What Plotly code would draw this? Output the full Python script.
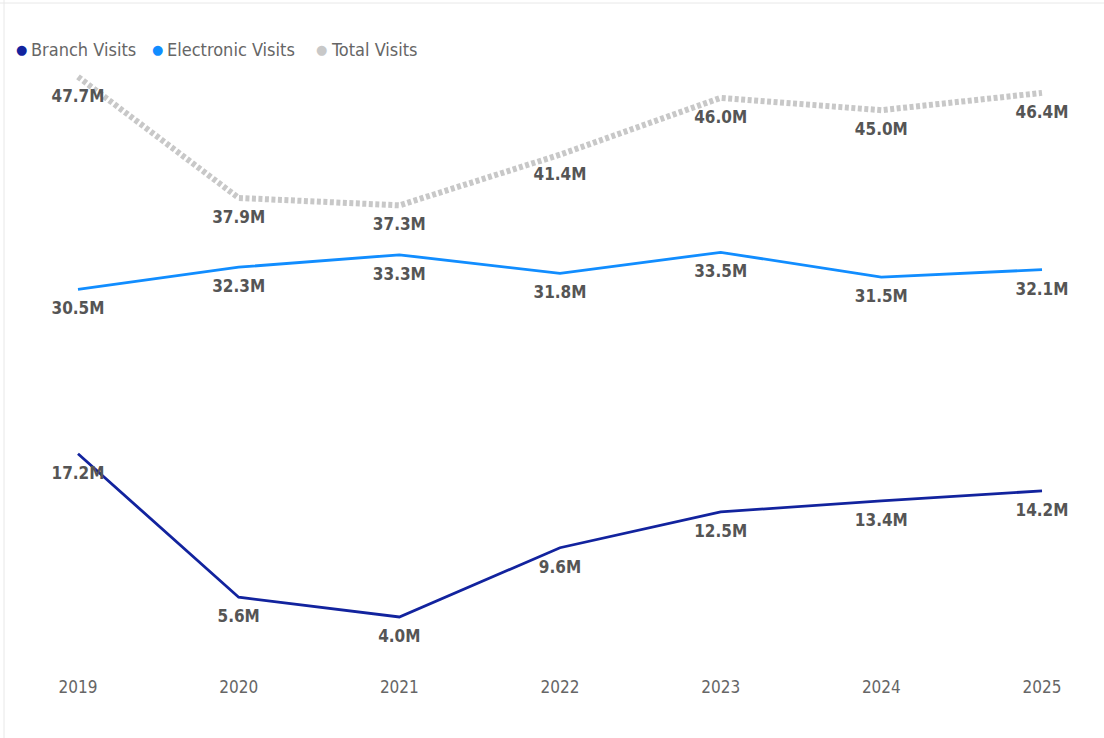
import plotly.graph_objects as go

years = ["2019", "2020", "2021", "2022", "2023", "2024", "2025"]
branch = [17.2, 5.6, 4.0, 9.6, 12.5, 13.4, 14.2]
electronic = [30.5, 32.3, 33.3, 31.8, 33.5, 31.5, 32.1]
total = [47.7, 37.9, 37.3, 41.4, 46.0, 45.0, 46.4]

names = ["Branch Visits", "Electronic Visits", "Total Visits"]
colors = ["#12239E", "#118DFF", "#C8C8C8"]

FONT = "DejaVu Sans Condensed, Roboto, sans-serif"
LABEL_COLOR = "#555555"

fig = go.Figure()
series = [branch, electronic, total]
for name, vals, col in zip(names, series, colors):
    is_total = name == "Total Visits"
    fig.add_trace(go.Scatter(
        x=list(range(len(years))), y=vals, name=name,
        mode="lines+markers+text",
        line=dict(color=col, width=6 if is_total else 2.8,
                  dash="4px,2.5px" if is_total else "solid"),
        marker=dict(size=18, color="rgba(0,0,0,0)"),
        texttemplate="%{y:.1f}M", textposition="bottom center",
        textfont=dict(family=FONT, size=17, color=LABEL_COLOR, weight="bold"),
        cliponaxis=False, showlegend=False, hoverinfo="skip",
    ))

# legend drawn as annotations (Power BI style: small dot right next to text)
dot_x = [21, 157, 321]
text_x = [29, 165, 329]
annotations = []
for name, col, dx, tx in zip(names, colors, dot_x, text_x):
    ly = 1 + (60 - 49) / 610
    annotations.append(dict(
        xref="paper", yref="paper", x=(dx - 60) / 1000, y=ly,
        xanchor="center", yanchor="middle", showarrow=False,
        text="●", font=dict(family="DejaVu Sans", size=13, color=col),
    ))
    annotations.append(dict(
        xref="paper", yref="paper", x=(tx - 60) / 1000, y=ly,
        xanchor="left", yanchor="middle", showarrow=False,
        text=name, font=dict(family=FONT, size=18, color="#666666"),
    ))

fig.update_layout(
    width=1104, height=738,
    margin=dict(l=60, r=44, t=60, b=68, autoexpand=False),
    paper_bgcolor="white", plot_bgcolor="white",
    font=dict(family=FONT, color="#666666"),
    showlegend=False,
    xaxis=dict(
        range=[-0.112, 6.112], tickmode="array",
        tickvals=list(range(len(years))), ticktext=years,
        showgrid=False, zeroline=False, showline=False, ticks="",
        tickfont=dict(family=FONT, size=17, color="#666666"),
        ticklabelstandoff=5,
        fixedrange=True, automargin=False,
    ),
    yaxis=dict(range=[-0.29, 49.06], visible=False, fixedrange=True),
    annotations=annotations,
    shapes=[
        dict(type="line", xref="paper", yref="paper",
             x0=(4 - 60) / 1000, x1=(4 - 60) / 1000, y0=-1, y1=2,
             line=dict(color="#E8E8E8", width=1)),
        dict(type="line", xref="paper", yref="paper",
             x0=-1, x1=2, y0=1 + (60 - 3) / 610, y1=1 + (60 - 3) / 610,
             line=dict(color="#E8E8E8", width=1)),
    ],
)

fig.write_html("out.html")
